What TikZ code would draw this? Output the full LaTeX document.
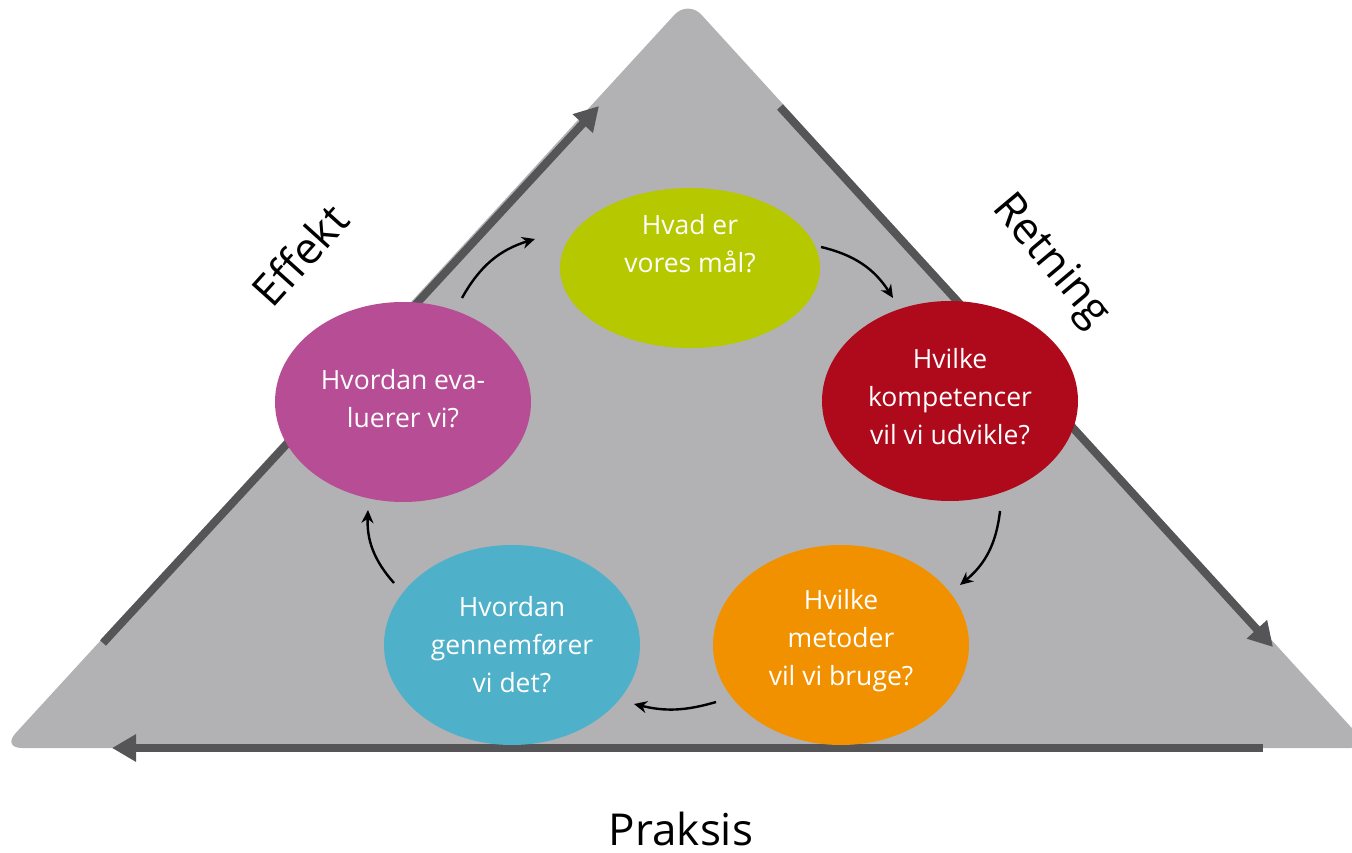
\documentclass[tikz,border=0pt]{standalone}
\usepackage{fontspec}
\setmainfont{Open Sans}
\usetikzlibrary{arrows.meta,shapes.geometric}
\definecolor{trigray}{RGB}{178,178,180}
\definecolor{edgegray}{RGB}{85,85,87}
\definecolor{cgreen}{RGB}{181,200,0}
\definecolor{cred}{RGB}{174,10,27}
\definecolor{corange}{RGB}{242,145,0}
\definecolor{cblue}{RGB}{78,176,201}
\definecolor{cmagenta}{RGB}{183,78,149}
\tikzset{
  bubble/.style={ellipse, minimum width=256pt, minimum height=200pt, inner sep=0pt},
  bubbletext/.style={text=white, align=center, inner sep=0pt, font=\fontsize{26.5}{38}\selectfont},
  sidelabel/.style={font=\fontsize{44}{50}\selectfont, text=black, inner sep=0pt},
  edgearrow/.style={draw=edgegray, line width=8pt, -{Triangle[length=24pt,width=26pt]}},
  cyclearrow/.style={draw=black, line width=2.4pt, -{Stealth[length=13pt,width=12pt]}, bend left=22},
}
\begin{document}
\begin{tikzpicture}[x=1pt,y=1pt]
\useasboundingbox (0,0) rectangle (1352,852);
% triangle
\coordinate (apex) at (688,852);
\coordinate (bl) at (2,104);
\coordinate (br) at (1370,104);
\fill[trigray, rounded corners=20pt] (bl) -- (apex) -- (br) -- cycle;
% edge arrows
\coordinate (la) at (103,209);
\coordinate (lb) at (599,746);
\coordinate (ra) at (780,745);
\coordinate (rb) at (1273,205);
\coordinate (ba) at (1263,104);
\coordinate (bb) at (112,104);
\draw[edgearrow] (la) -- (lb);
\draw[edgearrow] (ra) -- (rb);
\draw[edgearrow] (ba) -- (bb);
% bubbles
\node[bubble, fill=cgreen, minimum width=260pt, minimum height=160pt] (goal) at (690,584) {};
\node[bubble, fill=cred] (comp) at (950,451) {};
\node[bubble, fill=corange] (meth) at (841,207) {};
\node[bubble, fill=cblue] (exec) at (512,207) {};
\node[bubble, fill=cmagenta] (eval) at (403,450) {};
% texts
\node[bubbletext] (goalt) at (690,608) {Hvad er\\vores mål?};
\node[bubbletext] (compt) at (950,455) {Hvilke\\kompetencer\\vil vi udvikle?};
\node[bubbletext] (metht) at (841,211) {Hvilke\\metoder\\vil vi bruge?};
\node[bubbletext] (exect) at (512,207) {Hvordan\\gennemfører\\vi det?};
\node[bubbletext] (evalt) at (403,453) {Hvordan eva-\\luerer vi?};
% cycle arrows
\coordinate (a1s) at (462,554); \coordinate (a1e) at (535,613);
\coordinate (a2s) at (821,605); \coordinate (a2e) at (893,554);
\coordinate (a3s) at (1000,341); \coordinate (a3e) at (960,267);
\coordinate (a4s) at (716,150); \coordinate (a4e) at (634,148);
\coordinate (a5s) at (394,269); \coordinate (a5e) at (368,342);
\draw[cyclearrow] (a1s) to (a1e);
\draw[cyclearrow] (a2s) to (a2e);
\draw[cyclearrow] (a3s) to (a3e);
\draw[cyclearrow, bend left=15] (a4s) to (a4e);
\draw[cyclearrow] (a5s) to (a5e);
% side labels
\node[sidelabel, rotate=48] (effekt) at (300,597) {Effekt};
\node[sidelabel, rotate=-50] (retning) at (1050,590) {Retning};
\node[sidelabel, anchor=base] (praksis) at (681,7) {Praksis};
\end{tikzpicture}
\end{document}
